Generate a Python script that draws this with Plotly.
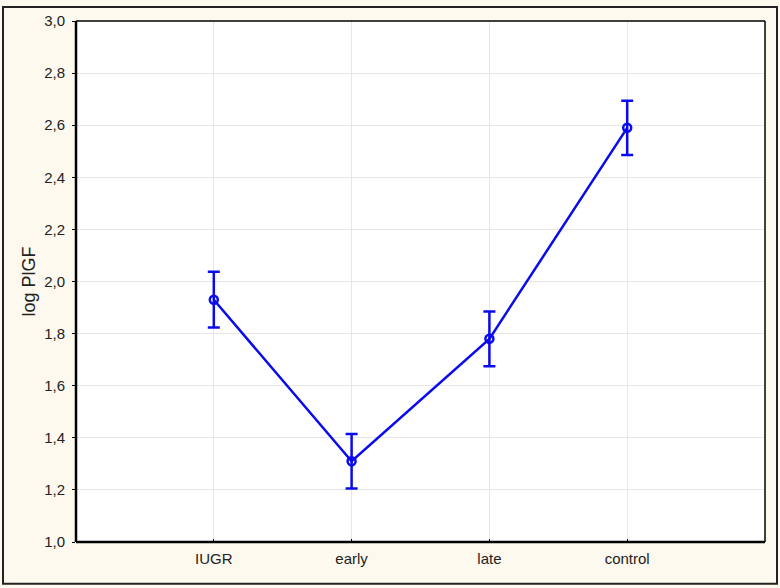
import plotly.graph_objects as go

categories = ["IUGR", "early", "late", "control"]
means = [1.93, 1.31, 1.78, 2.59]
errors = [0.107, 0.105, 0.105, 0.104]
y_ticks = [1.0, 1.2, 1.4, 1.6, 1.8, 2.0, 2.2, 2.4, 2.6, 2.8, 3.0]
y_tick_labels = [f"{v:.1f}".replace(".", ",") for v in y_ticks]

W, H = 780, 588
L, R, T, B = 76, 15, 17, 46
pw, ph = W - L - R, H - T - B

blue = "#0a0aef"
fig = go.Figure()
fig.add_trace(go.Scatter(
    x=list(range(len(categories))), y=means,
    mode="lines+markers",
    line=dict(color=blue, width=2.5),
    marker=dict(symbol="circle-open", size=8, color=blue, line=dict(width=2.5, color=blue)),
    error_y=dict(type="data", array=errors, visible=True, color=blue, thickness=2.5, width=6),
    showlegend=False,
))

family = "Liberation Sans, Arial, sans-serif"
font = dict(family=family, size=15, color="#222222")
fig.update_layout(
    width=W, height=H,
    margin=dict(l=L, r=R, t=T, b=B),
    paper_bgcolor="#fdf9ee",
    plot_bgcolor="#ffffff",
    font=font,
    xaxis=dict(
        range=[-1, 4], tickmode="array", tickvals=list(range(len(categories))),
        ticktext=categories, showgrid=True, gridcolor="#e6e6e6", gridwidth=1,
        zeroline=False, ticks="inside", ticklen=3, tickcolor="#000",
        showline=False, ticklabelstandoff=6,
    ),
    yaxis=dict(
        range=[1.0, 3.0], tickmode="array", tickvals=y_ticks, ticktext=y_tick_labels,
        showgrid=True, gridcolor="#e6e6e6", gridwidth=1, zeroline=False,
        ticks="outside", ticklen=3, tickcolor="#000", showline=False,
        title=dict(text="log PlGF", standoff=3),
        ticklabelstandoff=4,
    ),
    shapes=[
        # plot frame
        dict(type="line", xref="paper", yref="paper", x0=0, x1=1, y0=1, y1=1, line=dict(color="#000", width=1.5)),
        dict(type="line", xref="paper", yref="paper", x0=1, x1=1, y0=0, y1=1, line=dict(color="#000", width=1.5)),
        dict(type="line", xref="paper", yref="paper", x0=0, x1=0, y0=0, y1=1, line=dict(color="#000", width=2.5)),
        dict(type="line", xref="paper", yref="paper", x0=0, x1=1, y0=0, y1=0, line=dict(color="#000", width=2.5)),
        # outer figure frame
        dict(type="rect", xref="paper", yref="paper",
             x0=(3 - L) / pw, x1=(777 - L) / pw,
             y0=(H - B - 584) / ph, y1=(H - B - 3) / ph,
             line=dict(color="#222", width=2), layer="below"),
    ],
)

fig.write_html("out.html", config={"displayModeBar": False},
               post_script="document.body.style.margin='0';document.body.style.overflow='hidden';")
